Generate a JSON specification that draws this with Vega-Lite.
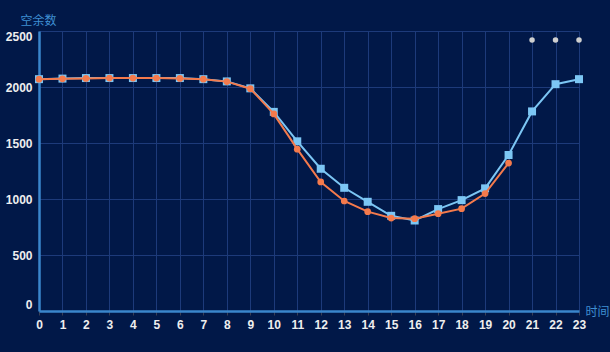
{
  "$schema": "https://vega.github.io/schema/vega-lite/v6.json",
  "width": 540,
  "height": 280,
  "autosize": {"type": "none"},
  "padding": {"left": 39, "top": 31, "right": 31, "bottom": 41},
  "background": "#011848",
  "config": {
    "view": {"stroke": null},
    "font": "Liberation Sans"
  },
  "datasets": {
    "blue": [
      {"hour": 0, "value": 2070}, {"hour": 1, "value": 2075}, {"hour": 2, "value": 2080}, {"hour": 3, "value": 2080},
      {"hour": 4, "value": 2080}, {"hour": 5, "value": 2080}, {"hour": 6, "value": 2080}, {"hour": 7, "value": 2070},
      {"hour": 8, "value": 2050}, {"hour": 9, "value": 1988}, {"hour": 10, "value": 1778}, {"hour": 11, "value": 1515},
      {"hour": 12, "value": 1270}, {"hour": 13, "value": 1100}, {"hour": 14, "value": 975}, {"hour": 15, "value": 850},
      {"hour": 16, "value": 808}, {"hour": 17, "value": 910}, {"hour": 18, "value": 990}, {"hour": 19, "value": 1095},
      {"hour": 20, "value": 1393}, {"hour": 21, "value": 1782}, {"hour": 22, "value": 2025}, {"hour": 23, "value": 2070}
    ],
    "orange": [
      {"hour": 0, "value": 2070}, {"hour": 1, "value": 2073}, {"hour": 2, "value": 2077}, {"hour": 3, "value": 2080},
      {"hour": 4, "value": 2080}, {"hour": 5, "value": 2080}, {"hour": 6, "value": 2077}, {"hour": 7, "value": 2070},
      {"hour": 8, "value": 2048}, {"hour": 9, "value": 1985}, {"hour": 10, "value": 1760}, {"hour": 11, "value": 1445},
      {"hour": 12, "value": 1152}, {"hour": 13, "value": 982}, {"hour": 14, "value": 887}, {"hour": 15, "value": 830},
      {"hour": 16, "value": 824}, {"hour": 17, "value": 869}, {"hour": 18, "value": 914}, {"hour": 19, "value": 1048},
      {"hour": 20, "value": 1321}
    ],
    "dots": [
      {"hour": 21, "value": 2420}, {"hour": 22, "value": 2420}, {"hour": 23, "value": 2420}
    ]
  },
  "encoding": {
    "x": {
      "field": "hour", "type": "quantitative",
      "scale": {"domain": [0, 23], "nice": false, "zero": false},
      "axis": {
        "values": [0,1,2,3,4,5,6,7,8,9,10,11,12,13,14,15,16,17,18,19,20,21,22,23],
        "format": "d",
        "title": "时间",
        "titleColor": "#3f8fd2",
        "titleFont": "Noto Sans CJK SC",
        "titleFontSize": 12,
        "titleFontWeight": "normal",
        "titleAlign": "left",
        "titleBaseline": "middle",
        "titleX": 546,
        "titleY": 0,
        "domainColor": "#3a86cc",
        "domainWidth": 2.5,
        "tickColor": "#3a3f55",
        "tickSize": 4,
        "labelColor": "#eeeeee",
        "labelFontSize": 12,
        "labelFontWeight": "bold",
        "labelPadding": 4,
        "labelFlush": false,
        "labelOverlap": false,
        "grid": true,
        "gridColor": "#1d3a7a",
        "gridWidth": 1
      }
    },
    "y": {
      "field": "value", "type": "quantitative",
      "scale": {"domain": [0, 2500], "nice": false},
      "axis": {
        "values": [0, 500, 1000, 1500, 2000, 2500],
        "format": "d",
        "title": "空余数",
        "titleColor": "#3f8fd2",
        "titleFont": "Noto Sans CJK SC",
        "titleFontSize": 12,
        "titleFontWeight": "normal",
        "titleAngle": 0,
        "titleAlign": "center",
        "titleBaseline": "middle",
        "titleX": -1,
        "titleY": -11,
        "domainColor": "#3a86cc",
        "domainWidth": 2.5,
        "ticks": false,
        "labelColor": "#eeeeee",
        "labelFontSize": 12,
        "labelFontWeight": "bold",
        "labelPadding": 7,
        "labelFlush": true,
        "grid": true,
        "gridColor": "#1d3a7a",
        "gridWidth": 1
      }
    }
  },
  "layer": [
    {"data": {"name": "blue"}, "mark": {"type": "line", "color": "#7cc6f4", "strokeWidth": 2}},
    {"data": {"name": "blue"}, "mark": {"type": "point", "shape": "square", "filled": true, "opacity": 1, "color": "#7cc6f4", "size": 64}},
    {"data": {"name": "orange"}, "mark": {"type": "line", "color": "#f47a4c", "strokeWidth": 2}},
    {"data": {"name": "orange"}, "mark": {"type": "point", "shape": "circle", "filled": true, "opacity": 1, "color": "#f47a4c", "size": 45}},
    {"data": {"name": "dots"}, "mark": {"type": "point", "shape": "circle", "filled": true, "opacity": 1, "color": "#cfcfcf", "size": 30}}
  ]
}
